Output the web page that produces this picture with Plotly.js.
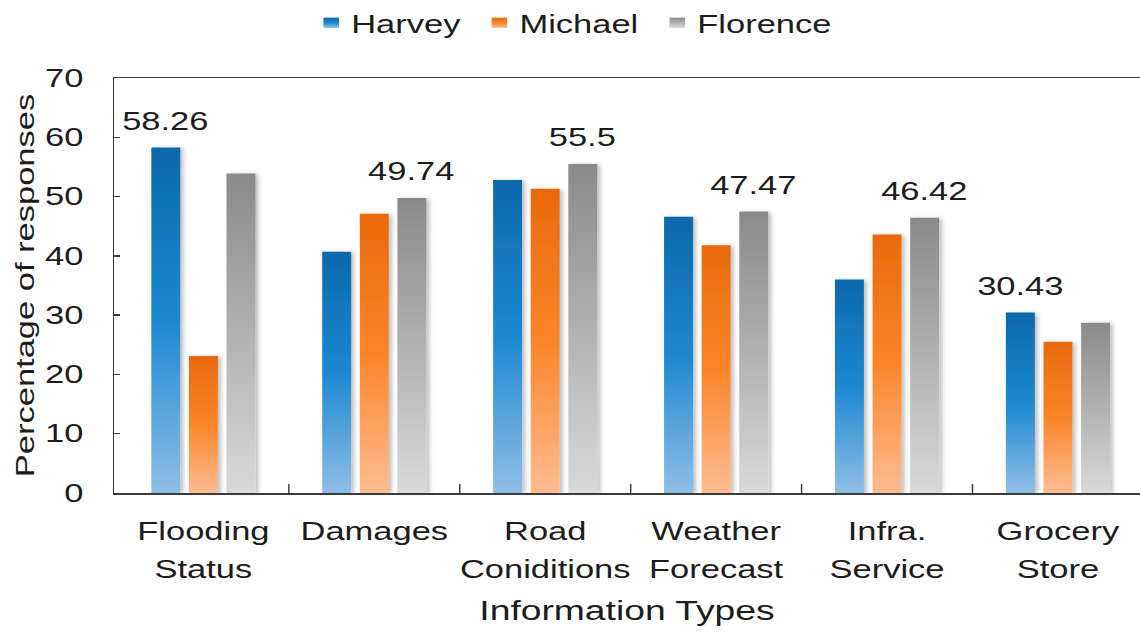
<!DOCTYPE html>
<html>
<head>
<meta charset="utf-8">
<script src="https://cdn.plot.ly/plotly-3.0.1.min.js"></script>
<style>html,body{margin:0;padding:0;background:#fff;overflow:hidden}</style>
</head>
<body>
<div id="chart" style="width:1140px;height:635px"></div>
<script>
// ---- data ----
const categories = ["Flooding<br>Status", "Damages", "Road<br>Coniditions", "Weather<br>Forecast", "Infra.<br>Service", "Grocery<br>Store"];
const seriesNames = ["Harvey", "Michael", "Florence"];
const harvey   = [58.26, 40.7, 52.8, 46.6, 36.0, 30.43];
const michael  = [23.1, 47.1, 51.3, 41.8, 43.6, 25.5];
const florence = [53.9, 49.74, 55.5, 47.47, 46.42, 28.7];
const yTickVals = [0, 10, 20, 30, 40, 50, 60, 70];
const yTitle = "Percentage of responses";
const xTitle = "Information Types";

// ---- style ----
const FONT = "Liberation Sans, Arial, sans-serif";
const TXT = "#1c1c1c";
const FS = 25;
const STRETCH = 1.38;
const BARGAP = 0.34;
const GROUPGAP = 0.23;
const baseColors = ["#1a7fc4", "#f57d20", "#a8a8a8"];
const gradStops = [
  [["0%", "#0b69ab"], ["50%", "#1c88d1"], ["100%", "#8fbee7"]],
  [["0%", "#e8690c"], ["50%", "#fb8529"], ["100%", "#fdbc92"]],
  [["0%", "#8a8a8a"], ["50%", "#b1b1b1"], ["100%", "#d9d9d9"]]
];

const series = [harvey, michael, florence];
const idx = categories.map((_, i) => i);

const traces = series.map((vals, k) => ({
  type: "bar",
  name: seriesNames[k],
  x: idx,
  y: vals,
  marker: { color: baseColors[k], line: { width: 0 } },
  hoverinfo: "skip"
}));

// value labels above the tallest bar in each group
const slot = (1 - BARGAP) / 3;
const annotations = idx.map(i => {
  let best = 0;
  series.forEach((s, k) => { if (s[i] > series[best][i]) best = k; });
  const v = series[best][i];
  return {
    x: i + (best - 1) * slot, y: v, xref: "x", yref: "y",
    text: String(v), showarrow: false, yanchor: "bottom", yshift: 11,
    font: { family: FONT, size: FS, color: TXT }
  };
});

const layout = {
  width: 1140, height: 635,
  margin: { l: 114, r: 0, t: 78, b: 142 },
  paper_bgcolor: "#ffffff", plot_bgcolor: "#ffffff",
  font: { family: FONT, size: FS, color: TXT },
  barmode: "group", bargap: BARGAP, bargroupgap: GROUPGAP,
  showlegend: true,
  legend: {
    orientation: "h", xref: "container", yref: "container",
    x: 0.273, xanchor: "left", y: 1, yanchor: "top",
    font: { family: FONT, size: FS, color: TXT },
    bgcolor: "rgba(0,0,0,0)", traceorder: "normal"
  },
  xaxis: {
    type: "linear", range: [-0.523, 5.48],
    tickvals: idx, ticktext: categories,
    showline: true, mirror: true, linecolor: "#3a3a3a", linewidth: 1.5,
    ticks: "", showgrid: false, zeroline: false,
    tickfont: { family: FONT, size: FS, color: TXT },
    ticklabelstandoff: 16,
    title: { text: xTitle, font: { family: FONT, size: 27, color: TXT }, standoff: 24 }
  },
  yaxis: {
    range: [0, 70], tickvals: yTickVals,
    showline: true, linecolor: "#3a3a3a", linewidth: 1.5,
    ticks: "inside", ticklen: 6, tickwidth: 1.5, tickcolor: "#3a3a3a",
    showgrid: false, zeroline: false,
    tickfont: { family: FONT, size: FS, color: TXT },
    ticklabelstandoff: 24,
    title: { text: yTitle, font: { family: FONT, size: FS, color: TXT }, standoff: 14 }
  },
  annotations: annotations,
  shapes: idx.slice(1).map(i => ({
    type: "line", xref: "x", yref: "paper",
    x0: i - 0.5, x1: i - 0.5, ysizemode: "pixel", yanchor: 0, y0: 0, y1: 9,
    line: { color: "#3a3a3a", width: 1.5 }
  }))
};

function post(gd) {
  const NS = "http://www.w3.org/2000/svg";
  const svg = gd.querySelector(".main-svg");
  const defs = document.createElementNS(NS, "defs");
  gradStops.forEach((stops, k) => {
    const g = document.createElementNS(NS, "linearGradient");
    g.setAttribute("id", "barGrad" + k);
    g.setAttribute("x1", "0"); g.setAttribute("y1", "0");
    g.setAttribute("x2", "0"); g.setAttribute("y2", "1");
    stops.forEach(([o, c]) => {
      const s = document.createElementNS(NS, "stop");
      s.setAttribute("offset", o); s.setAttribute("stop-color", c);
      g.appendChild(s);
    });
    defs.appendChild(g);
  });
  const f = document.createElementNS(NS, "filter");
  f.setAttribute("id", "barShadow");
  f.setAttribute("x", "-30%"); f.setAttribute("y", "-5%");
  f.setAttribute("width", "170%"); f.setAttribute("height", "115%");
  const ds = document.createElementNS(NS, "feDropShadow");
  ds.setAttribute("dx", "3"); ds.setAttribute("dy", "1");
  ds.setAttribute("stdDeviation", "2");
  ds.setAttribute("flood-color", "#000"); ds.setAttribute("flood-opacity", "0.25");
  f.appendChild(ds); defs.appendChild(f);
  svg.insertBefore(defs, svg.firstChild);

  gd.querySelectorAll(".barlayer .trace").forEach((tr, k) => {
    tr.querySelectorAll("path").forEach(p => {
      p.style.fill = "url(#barGrad" + k + ")";
      p.setAttribute("filter", "url(#barShadow)");
    });
  });

  // second line spacing of category labels
  gd.querySelectorAll(".xtick text tspan.line").forEach(t => {
    const dy = t.getAttribute("dy");
    if (dy && parseFloat(dy) > 0) t.setAttribute("dy", "1.52em");
  });

  // wide lettering as in the original
  const texts = gd.querySelectorAll(".xtick text, .ytick text, .g-xtitle text, .g-ytitle text, .legendtext, .annotation-text");
  texts.forEach(el => {
    const bb = el.getBBox();
    const a = el.getAttribute("text-anchor") || "start";
    const px = a === "end" ? bb.x + bb.width : (a === "middle" ? bb.x + bb.width / 2 : bb.x);
    const old = el.getAttribute("transform") || "";
    el.setAttribute("transform", old + " translate(" + px + ",0) scale(" + STRETCH + ",1) translate(" + (-px) + ",0)");
  });

  // legend entries: gradient squares and spacing for the wider text
  const sb = gd.querySelector(".legend .scrollbox");
  if (sb) sb.removeAttribute("clip-path");
  const items = Array.from(gd.querySelectorAll(".legend .traces"));
  let cur = null;
  items.forEach((it, k) => {
    const p = it.querySelector(".legendpoints path");
    if (p) {
      p.style.fill = "url(#barGrad" + k + ")";
      const t = p.getAttribute("transform") || "";
      p.setAttribute("transform", t + " scale(1.3,0.85)");
    }
    const m = /translate\(([-\d.]+),\s*([-\d.]+)\)/.exec(it.getAttribute("transform") || "");
    const y = m ? parseFloat(m[2]) : 0;
    if (cur === null) cur = m ? parseFloat(m[1]) : 0;
    it.setAttribute("transform", "translate(" + cur + "," + y + ")");
    const tw = it.querySelector(".legendtext").getBoundingClientRect().width;
    cur += 40 + tw + 19;
  });
}

Plotly.newPlot("chart", traces, layout, { staticPlot: true, displayModeBar: false })
  .then(post);
</script>
</body>
</html>
